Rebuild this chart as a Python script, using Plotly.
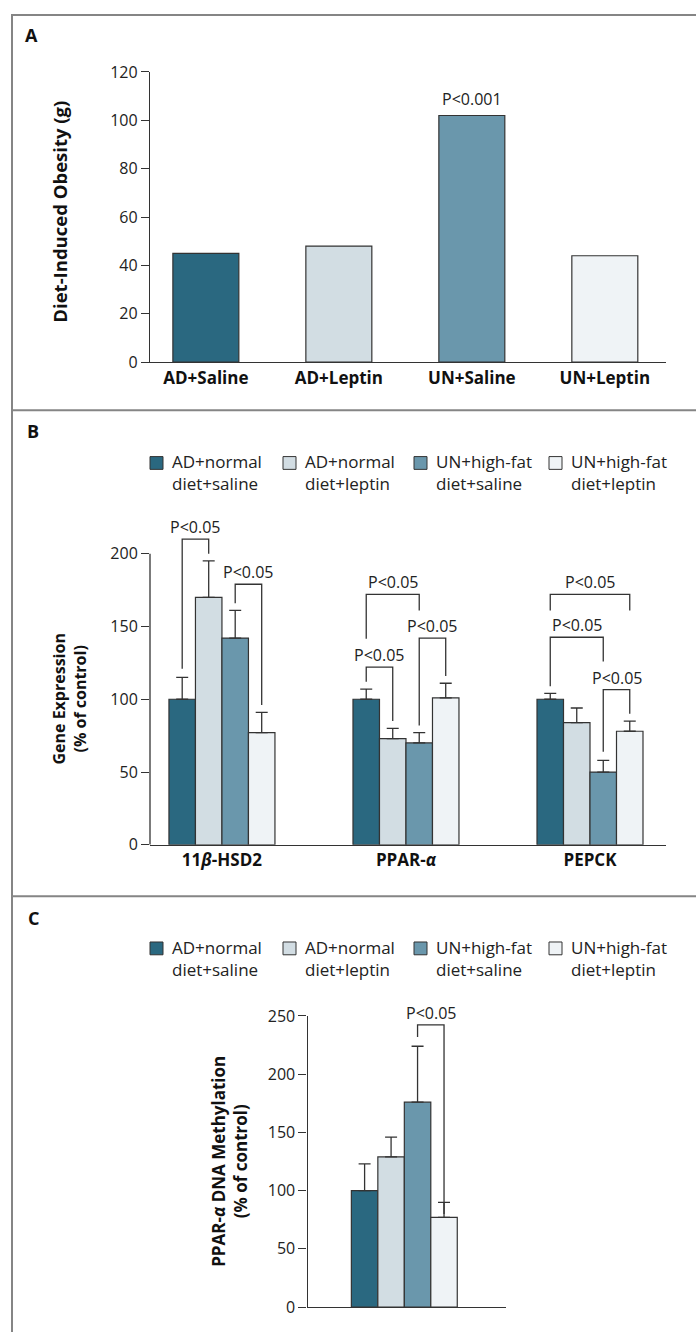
import plotly.graph_objects as go

W, H = 696, 1343
FONT = "Open Sans"
DARK = "#333333"

# ---------------- data ----------------
colors = ["#2a6880", "#d2dde3", "#6a97ac", "#eff3f6"]

a_categories = ["AD+Saline", "AD+Leptin", "UN+Saline", "UN+Leptin"]
a_values = [45, 48, 102, 44]
a_pvalue = "P<0.001"

series_names = ["AD+normal<br>diet+saline", "AD+normal<br>diet+leptin",
                "UN+high-fat<br>diet+saline", "UN+high-fat<br>diet+leptin"]

b_genes = ["11<i>β</i>-HSD2", "PPAR-<i>α</i>", "PEPCK"]
b_ad_saline = [100, 100, 100]
b_ad_leptin = [170, 73, 84]
b_un_saline = [142, 70, 50]
b_un_leptin = [77, 101, 78]
b_err_ad_saline = [15, 7, 4]
b_err_ad_leptin = [25, 7, 10]
b_err_un_saline = [19, 7, 8]
b_err_un_leptin = [14, 10, 7]
b_ticks = [0, 50, 100, 150, 200]

# brackets: (gene index, bar i, bar j, top, left leg bottom, right leg bottom, label)
b_brackets = [
    (0, 0, 1, 210, 121, 200, "P<0.05"),
    (0, 2, 3, 179, 166, 96, "P<0.05"),
    (1, 0, 2, 172, 141.5, 161, "P<0.05"),
    (1, 0, 1, 122, 112, 85, "P<0.05"),
    (1, 2, 3, 142, 82, 116, "P<0.05"),
    (2, 0, 3, 172, 161, 161, "P<0.05"),
    (2, 0, 2, 142.6, 109, 126, "P<0.05"),
    (2, 2, 3, 106.6, 64, 90, "P<0.05"),
]

c_category = ["PPAR-α"]
c_values = [100, 129, 176, 77]
c_errors = [23, 17, 48, 13]
c_ticks = [0, 50, 100, 150, 200, 250]
c_brackets = [(0, 2, 3, 242.4, 232, 80, "P<0.05")]


def X(px):
    return px / W


def Y(py):
    return 1 - py / H


fig = go.Figure()

# ---------------- Panel A ----------------
fig.add_trace(go.Bar(
    x=a_categories, y=a_values, width=0.496,
    marker=dict(color=colors, line=dict(color=DARK, width=1.2)),
    showlegend=False, xaxis="x", yaxis="y", hoverinfo="x+y"))

# ---------------- Panel B & C ----------------
BW = 0.144
offsets = [-2 * BW, -BW, 0, BW]
b_vals = [b_ad_saline, b_ad_leptin, b_un_saline, b_un_leptin]
b_errs = [b_err_ad_saline, b_err_ad_leptin, b_err_un_saline, b_err_un_leptin]
for i in range(4):
    fig.add_trace(go.Bar(
        x=b_genes, y=b_vals[i], width=BW, offset=offsets[i],
        marker=dict(color=colors[i], line=dict(color=DARK, width=1.2)),
        error_y=dict(type="data", array=b_errs[i], arrayminus=[0] * 3,
                     symmetric=False, color=DARK, thickness=1.3, width=6),
        showlegend=False, xaxis="x2", yaxis="y2", name=series_names[i]))
    fig.add_trace(go.Bar(
        x=c_category, y=[c_values[i]], width=BW, offset=offsets[i],
        marker=dict(color=colors[i], line=dict(color=DARK, width=1.2)),
        error_y=dict(type="data", array=[c_errors[i]], arrayminus=[0],
                     symmetric=False, color=DARK, thickness=1.3, width=6),
        showlegend=False, xaxis="x3", yaxis="y3", name=series_names[i]))

shapes = []
annotations = []


def bar_center(g, i):
    return g + offsets[i] + BW / 2


def add_brackets(brs, xr, yr):
    for g, i, j, top, lb, rb, lab in brs:
        x0, x1 = bar_center(g, i), bar_center(g, j)
        shapes.append(dict(type="path", xref=xr, yref=yr,
                           path=f"M{x0},{lb} L{x0},{top} L{x1},{top} L{x1},{rb}",
                           line=dict(color=DARK, width=1.3)))
        annotations.append(dict(x=(x0 + x1) / 2, y=top, xref=xr, yref=yr,
                                text=lab, showarrow=False, yanchor="bottom",
                                yshift=-1, font=dict(family=FONT, size=16, color="#222")))


add_brackets(b_brackets, "x2", "y2")
add_brackets(c_brackets, "x3", "y3")

# P value panel A
annotations.append(dict(x=a_categories[2], y=a_values[2], xref="x", yref="y",
                        text=a_pvalue, showarrow=False, yanchor="bottom", yshift=4,
                        font=dict(family=FONT, size=16, color="#222")))

# y-axis line for panel B (ends at 200)
shapes.append(dict(type="line", xref="x2 domain", yref="y2", x0=0, x1=0, y0=0, y1=200,
                   line=dict(color=DARK, width=1.3)))

# legends (B and C)
leg_x = [150, 283, 414, 549]
for sq_y, txt_y in [(459.5, 469.5), (953, 963.5)]:
    for k in range(4):
        shapes.append(dict(type="rect", xref="paper", yref="paper",
                           x0=X(leg_x[k]), x1=X(leg_x[k] + 13),
                           y0=Y(sq_y + 6.5), y1=Y(sq_y - 6.5),
                           fillcolor=colors[k], line=dict(color=DARK, width=1)))
        annotations.append(dict(x=X(leg_x[k] + 20), y=Y(txt_y), xref="paper", yref="paper",
                                text=series_names[k], showarrow=False, xanchor="left",
                                yanchor="middle", align="left",
                                font=dict(family=FONT, size=17, color="#222")))

# panel letters
for lab, (px, py) in zip(["A", "B", "C"], [(31, 24), (33, 427.5), (33, 921.7)]):
    annotations.append(dict(x=X(px), y=Y(py), xref="paper", yref="paper", text=f"<b>{lab}</b>",
                            showarrow=False, xanchor="center", yanchor="middle",
                            font=dict(family=FONT, size=18, color="#111")))

# y titles
for txt, (px, py), fs in zip(["<b>Diet-Induced Obesity (g)</b>",
                              "<b>Gene Expression<br>(% of control)</b>",
                              "<b>PPAR-<i>α</i> DNA Methylation<br>(% of control)</b>"],
                             [(60, 204), (70, 700), (230, 1170)], [18.5, 16, 17]):
    annotations.append(dict(x=X(px), y=Y(py), xref="paper", yref="paper", text=txt,
                            showarrow=False, textangle=-90, xanchor="center", yanchor="middle",
                            font=dict(family=FONT, size=fs, color="#111")))

# panel frame lines
FR = "#858585"
shapes.append(dict(type="line", xref="paper", yref="paper", x0=X(11), x1=1, y0=Y(4), y1=Y(4),
                   line=dict(color=FR, width=2)))
shapes.append(dict(type="line", xref="paper", yref="paper", x0=X(12), x1=X(12), y0=Y(3), y1=0,
                   line=dict(color=FR, width=2)))
for py in [406, 900]:
    shapes.append(dict(type="line", xref="paper", yref="paper", x0=X(12), x1=1, y0=Y(py), y1=Y(py),
                       line=dict(color=FR, width=2)))

tickfont = dict(family=FONT, size=16, color="#222")
common_y = dict(showgrid=False, zeroline=False, ticks="outside", ticklen=8, tickwidth=1.3,
                tickcolor=DARK, tickfont=tickfont, linecolor=DARK, linewidth=1.3)
common_x = dict(showgrid=False, zeroline=False, showline=True, linecolor=DARK, linewidth=1.3,
                ticks="", tickfont=dict(family=FONT, size=17, color="#111", weight="bold"))

fig.update_layout(
    width=W, height=H, autosize=False,
    margin=dict(l=0, r=0, t=0, b=0),
    paper_bgcolor="white", plot_bgcolor="white",
    barmode="overlay", showlegend=False,
    font=dict(family=FONT),
    xaxis=dict(domain=[X(150), X(666)], anchor="y", range=[-0.42, 3.46], **common_x),
    yaxis=dict(domain=[Y(357), Y(62)], anchor="x", range=[0, 120], dtick=20,
               showline=True, **common_y),
    xaxis2=dict(domain=[X(150), X(666)], anchor="y2", range=[-0.391, 2.413], **common_x),
    yaxis2=dict(domain=[Y(847.7), Y(529.5)], anchor="x2", range=[0, 215],
                tickvals=b_ticks, showline=False, **common_y),
    xaxis3=dict(domain=[X(307.6), X(506)], anchor="y3", range=[-0.526, 0.553],
                showticklabels=False, **{k: v for k, v in common_x.items() if k != "tickfont"}),
    yaxis3=dict(domain=[Y(1317.7), Y(1021.7)], anchor="x3", range=[0, 250],
                tickvals=c_ticks, showline=True, **common_y),
    shapes=shapes, annotations=annotations,
)

fig.write_html("out.html", config={"displayModeBar": False},
               post_script="document.body.style.margin='0px';document.body.style.padding='0px';"
                           "document.body.style.overflow='hidden';")
